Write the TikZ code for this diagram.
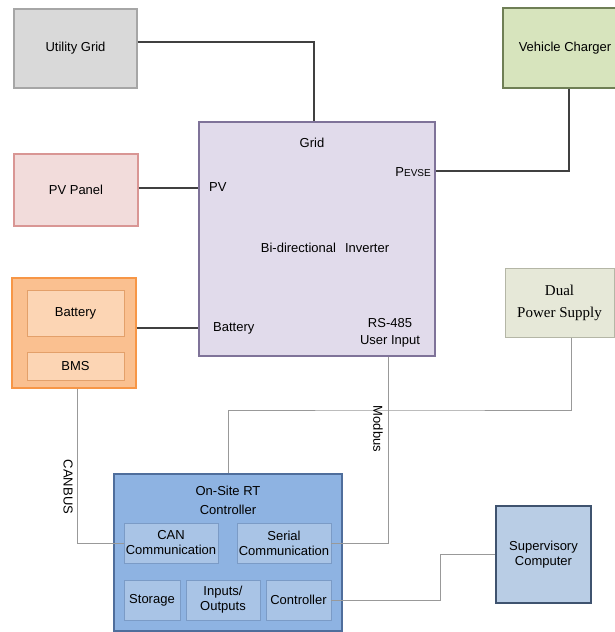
\documentclass[tikz,border=0pt]{standalone}
\usepackage{fontspec}
\setmainfont{Liberation Sans}
\newfontfamily\serifps{Liberation Serif}
\definecolor{ugfill}{HTML}{D9D9D9}\definecolor{ugdraw}{HTML}{A6A6A6}
\definecolor{pvfill}{HTML}{F2DCDB}\definecolor{pvdraw}{HTML}{D99694}
\definecolor{vcfill}{HTML}{D7E4BD}\definecolor{vcdraw}{HTML}{6F7F55}
\definecolor{invfill}{HTML}{E1DBEB}\definecolor{invdraw}{HTML}{7F7399}
\definecolor{batfill}{HTML}{FAC090}\definecolor{batdraw}{HTML}{F79646}
\definecolor{binfill}{HTML}{FCD5B4}\definecolor{bindraw}{HTML}{E3A06A}
\definecolor{dpsfill}{HTML}{E6E8D8}\definecolor{dpsdraw}{HTML}{B4B6A6}
\definecolor{ctfill}{HTML}{8EB3E2}\definecolor{ctdraw}{HTML}{4F6E9C}
\definecolor{cinfill}{HTML}{A9C4E6}\definecolor{cindraw}{HTML}{7B9BC6}
\definecolor{supfill}{HTML}{B9CDE5}\definecolor{supdraw}{HTML}{3F536F}
\definecolor{pline}{HTML}{404040}\definecolor{cline}{HTML}{999999}
\begin{document}
\begin{tikzpicture}[x=1pt,y=-1pt,
  box/.style={draw, line width=1.4pt, inner sep=0pt, align=center, font=\fontsize{13}{15.5}\selectfont},
  inbox/.style={draw, line width=0.9pt, inner sep=0pt, align=center, font=\fontsize{13}{15}\selectfont},
  lbl/.style={inner sep=0pt, font=\fontsize{13}{17.5}\selectfont},
  pwr/.style={draw=pline, line width=1.3pt},
  com/.style={draw=cline, line width=0.9pt}]
\useasboundingbox (0,0) rectangle (615,632);
\fill[white] (0,0) rectangle (615,632);
% boxes
\node[box, fill=ugfill, draw=ugdraw, minimum width=123pt, minimum height=79pt] (ug) at (75.5,48.5) {Utility Grid};
\node[box, fill=pvfill, draw=pvdraw, minimum width=124pt, minimum height=72pt] (pv) at (76,190) {PV Panel};
\node[box, fill=vcfill, draw=vcdraw, minimum width=124pt, minimum height=80pt] (vc) at (565,48) {Vehicle Charger};
\node[box, fill=invfill, draw=invdraw, minimum width=236pt, minimum height=234pt] (inv) at (317,239) {};
\node[box, fill=batfill, draw=batdraw, minimum width=124pt, minimum height=110pt] (bat) at (74,333) {};
\node[inbox, fill=binfill, draw=bindraw, minimum width=97pt, minimum height=46pt] (batin) at (75.5,313) {Battery};
\node[inbox, fill=binfill, draw=bindraw, minimum width=97pt, minimum height=28pt] (bms) at (75.5,366) {BMS};
\node[box, fill=dpsfill, draw=dpsdraw, line width=1pt, minimum width=109pt, minimum height=69pt, font=\serifps\fontsize{15}{22}\selectfont] (dps) at (559.5,302.5) {Dual\\Power Supply};
\node[box, fill=ctfill, draw=ctdraw, minimum width=228pt, minimum height=157pt] (ctrl) at (228,552.5) {};
\node[lbl, align=center, font=\fontsize{13}{19}\selectfont] (ctitle) at (228,500) {On-Site RT\\Controller};
\node[inbox, fill=cinfill, draw=cindraw, minimum width=94pt, minimum height=40pt] (can) at (171,543) {CAN\\Communication};
\node[inbox, fill=cinfill, draw=cindraw, minimum width=94pt, minimum height=40pt] (ser) at (284,543) {Serial\\Communication};
\node[inbox, fill=cinfill, draw=cindraw, minimum width=56pt, minimum height=40pt] (sto) at (152,600) {Storage};
\node[inbox, fill=cinfill, draw=cindraw, minimum width=74pt, minimum height=40pt] (io) at (223,600) {Inputs/\\Outputs};
\node[inbox, fill=cinfill, draw=cindraw, minimum width=65pt, minimum height=40pt] (cb) at (298.5,600) {Controller};
\node[box, fill=supfill, draw=supdraw, minimum width=95pt, minimum height=97pt] (sup) at (543.5,554.5) {Supervisory\\Computer};
% inverter labels
\node[lbl] (lgrid) at (312,143) {Grid};
\node[lbl, anchor=west] (lpv) at (209,187) {PV};
\node[lbl, anchor=east] (lpevse) at (431,172) {P{\fontsize{10}{10}\selectfont EVSE}};
\node[lbl] (lbidi) at (325,248) {Bi-directional\hspace{9pt}Inverter};
\node[lbl, anchor=west] (lbat) at (213,328) {Battery};
\node[lbl, align=center] (lrs) at (390,333) {RS-485\\User Input};
% junction coordinates
\coordinate (j1) at (400,410);
\coordinate (j2) at (440,0);
% power connectors
\draw[pwr] ([yshift=6.5pt]ug.east) -| ([xshift=-3pt]inv.north);
\draw[pwr] ([yshift=2pt]pv.east) -- ([yshift=2pt]pv.east -| inv.west);
\draw[pwr] ([xshift=4pt]vc.south) |- ([yshift=-171pt+239pt]inv.east);
\draw[pwr] ([yshift=5pt]bat.east) -- ([yshift=5pt]bat.east -| inv.west);
% communication connectors
\draw[com] ([xshift=3pt]bat.south) |- (can.west);
\draw[com] ([xshift=71pt]inv.south) |- (ser.east);
\draw[com] ([xshift=11.5pt]dps.south) |- (j1) -| (ctrl.north);
\draw[com] (cb.east) -- (cb.east -| j2) |- (sup.west);
% connector labels
\node[lbl, rotate=-90] (lcan) at (68,487) {CANBUS};
\node[lbl, rotate=-90] (lmod) at (378,429) {Modbus};
\end{tikzpicture}
\end{document}
